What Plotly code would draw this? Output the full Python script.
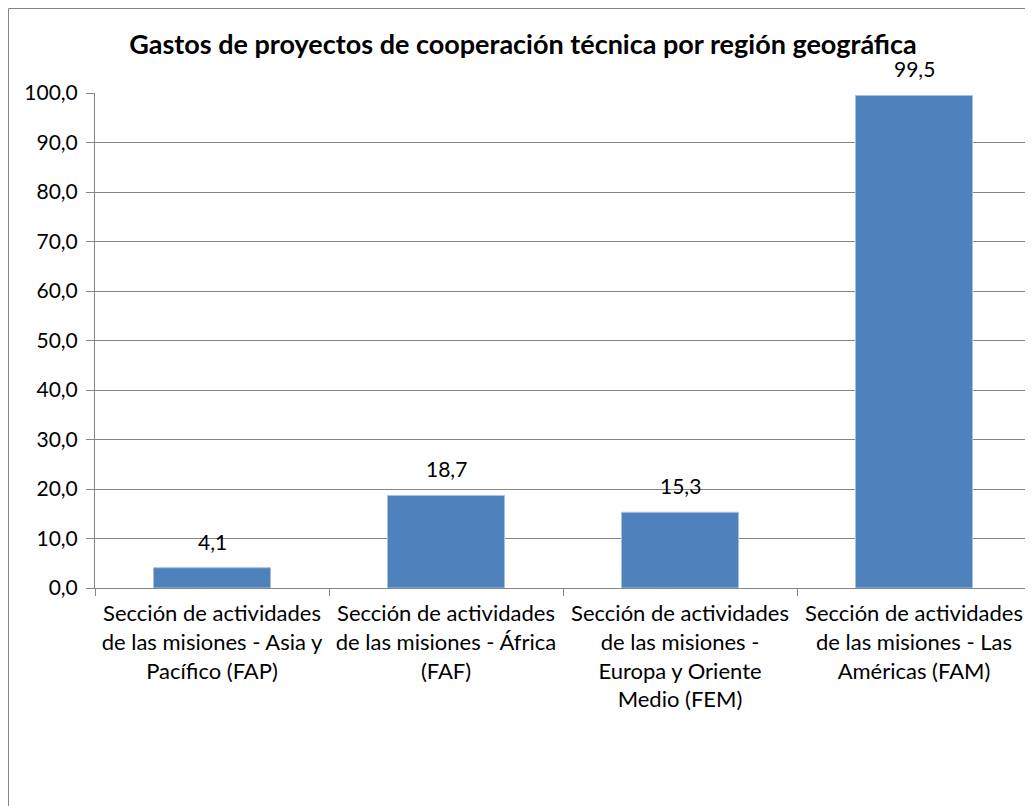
import plotly.graph_objects as go

categories = [
    "Sección de actividades<br>de las misiones - Asia y<br>Pacífico (FAP)",
    "Sección de actividades<br>de las misiones - África<br>(FAF)",
    "Sección de actividades<br>de las misiones -<br>Europa y Oriente<br>Medio (FEM)",
    "Sección de actividades<br>de las misiones - Las<br>Américas (FAM)",
]
values = [4.1, 18.7, 15.3, 99.5]
title_text = "Gastos de proyectos de cooperación técnica por región geográfica"

FONT = "Lato"
GRID = "#868686"
BAR = "#4F81BD"

W, H = 1025, 798  # page body has an 8px margin
fig = go.Figure()
fig.add_trace(go.Bar(
    x=categories, y=values, width=0.5,
    marker=dict(color=BAR, line=dict(color="#A7C0DE", width=1)),
    hoverinfo="skip",
))
for c, v in zip(categories, values):
    fig.add_annotation(x=c, y=v, text=f"{v:.1f}".replace(".", ","),
                       showarrow=False, yanchor="bottom", yshift=12,
                       font=dict(family=FONT, size=21, color="#000000"))

fig.update_layout(
    width=W, height=H,
    margin=dict(l=87, r=0, t=85, b=218),
    paper_bgcolor="white", plot_bgcolor="white",
    separators=",.",
    showlegend=False,
    font=dict(family=FONT, size=21, color="#000000"),
    title=dict(text="<b>" + title_text + "</b>", xref="container", x=515 / W,
               xanchor="center", yref="container", y=1 - 37 / H, yanchor="middle",
               font=dict(family=FONT, size=27, color="#000000")),
)
fig.update_yaxes(
    range=[0, 100], dtick=10, tickformat=".1f",
    showgrid=True, gridcolor=GRID, gridwidth=1,
    showline=True, linecolor=GRID, linewidth=1,
    ticks="outside", ticklen=8, tickcolor=GRID,
    ticklabelstandoff=4,
    tickfont=dict(family=FONT, size=21, color="#000000"),
    zeroline=False,
)
fig.update_xaxes(
    range=[-0.5, 3.5085], tickson="boundaries",
    showline=True, linecolor=GRID, linewidth=1,
    ticks="outside", ticklen=7, tickcolor=GRID,
    ticklabelstandoff=6,
    tickfont=dict(family=FONT, size=22, color="#000000"),
    tickangle=0,
)
fig.add_shape(type="rect", xref="paper", yref="paper",
              x0=(0.5 - 87) / 938, x1=1.05, y0=-0.5, y1=1 + 84.5 / 495,
              line=dict(color=GRID, width=1), fillcolor="rgba(0,0,0,0)", layer="below")

fig.write_html("out.html")
